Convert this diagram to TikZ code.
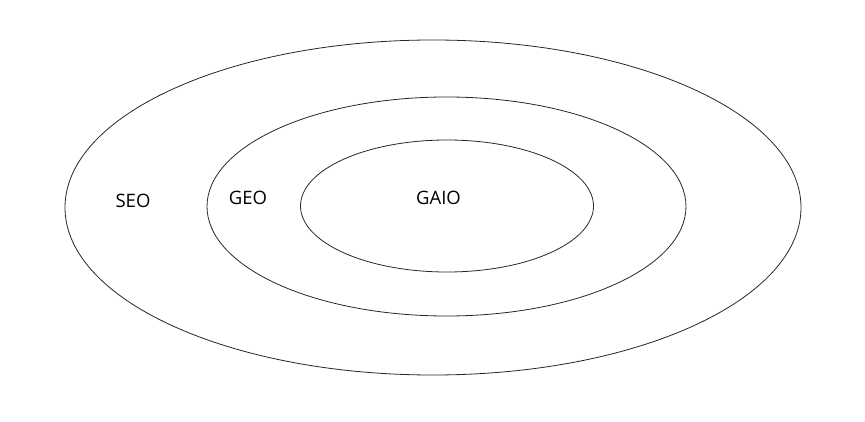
\documentclass[tikz,border=0pt]{standalone}
\usepackage{fontspec}
\setmainfont{Open Sans}

\begin{document}
\begin{tikzpicture}[x=1pt,y=-1pt,line width=0.8pt]
\tikzset{ring/.style={draw=black!85},lbl/.style={font=\fontsize{18.5}{22}\selectfont,inner sep=0}}
\useasboundingbox (0,0) rectangle (865,422);
\draw[ring] (433,207.5) ellipse [x radius=368,y radius=167.5];
\draw[ring] (446.5,206.5) ellipse [x radius=239.5,y radius=109.5];
\draw[ring] (447,206) ellipse [x radius=146.5,y radius=66];
\node[lbl] (seo) at (133,200.5) {SEO};
\node[lbl] (geo) at (248,197.5) {GEO};
\node[lbl] (gaio) at (438.5,198) {GAIO};
\end{tikzpicture}
\end{document}
